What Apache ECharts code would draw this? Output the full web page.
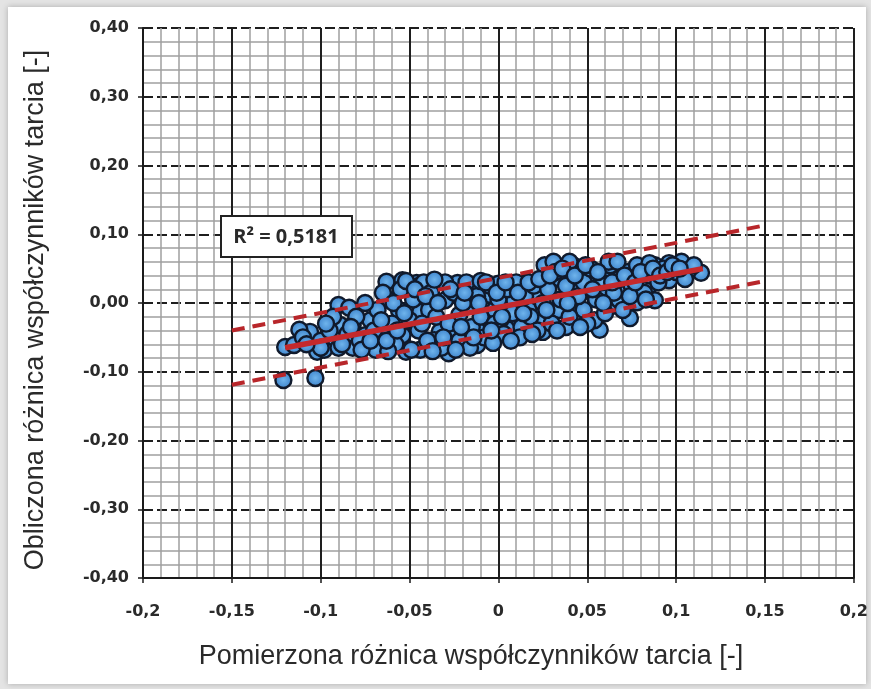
<!DOCTYPE html>
<html><head><meta charset="utf-8">
<script src="https://cdn.jsdelivr.net/npm/echarts@6/dist/echarts.min.js"></script>
<style>html,body{margin:0;padding:0;background:#fff}#c{width:871px;height:689px}</style>
</head><body><div id="c"></div>
<script>
// Tick labels
const xTickLabels = ['-0,2','-0,15','-0,1','-0,05','0','0,05','0,1','0,15','0,2'];
const yTickLabels = ['-0,40','-0,30','-0,20','-0,10','0,00','0,10','0,20','0,30','0,40'];

const pointsX = [
 -0.120,-0.121,-0.103,-0.106,-0.112,-0.102,-0.090,-0.084,-0.082,-0.082,
 -0.095,-0.089,-0.069,-0.065,-0.063,-0.054,-0.046,-0.056,-0.054,-0.052,
 -0.072,-0.061,-0.075,-0.098,-0.115,-0.044,-0.035,-0.023,-0.012,0.006,
 0.016,0.029,0.033,-0.044,-0.039,-0.033,-0.023,-0.012,-0.028,-0.012,
 0.006,0.025,-0.044,0.017,-0.030,-0.016,-0.002,-0.005,-0.022,0.009,
 0.023,0.001,0.012,-0.036,0.034,0.042,0.048,0.062,0.038,0.057,
 0.078,0.114,0.034,0.043,0.051,0.060,0.068,0.079,0.088,0.096,
 0.103,0.107,0.046,0.057,0.071,0.085,0.096,0.026,0.031,0.068,
 0.054,0.074,0.088,0.026,-0.110,-0.100,-0.095,-0.085,-0.080,-0.078,
 -0.070,-0.068,-0.065,-0.060,-0.058,-0.055,-0.050,-0.048,-0.045,-0.042,
 -0.040,-0.038,-0.035,-0.032,-0.030,-0.028,-0.025,-0.022,-0.020,-0.018,
 -0.015,-0.012,-0.010,-0.008,-0.005,-0.002,0.000,0.003,0.005,0.008,
 0.010,0.013,0.015,0.018,0.020,0.022,0.025,0.028,0.030,0.032,
 0.035,0.038,0.040,0.042,0.045,0.048,0.050,0.052,0.055,0.058,
 0.060,0.063,0.065,0.068,0.070,0.073,0.075,0.078,0.082,0.085,
 0.090,0.093,0.100,0.105,-0.090,-0.075,-0.062,-0.052,-0.036,-0.010,
 0.000,0.012,-0.016,-0.003,0.040,0.062,0.085,0.110,
 -0.100,-0.093,-0.088,-0.083,-0.077,-0.072,-0.066,-0.063,-0.059,-0.057,
 -0.053,-0.049,-0.047,-0.043,-0.041,-0.037,-0.034,-0.031,-0.027,-0.024,
 -0.021,-0.019,-0.014,-0.011,-0.007,-0.004,-0.001,0.002,0.004,0.007,
 0.011,0.014,0.017,0.019,0.023,0.027,0.029,0.033,0.036,0.039,
 0.043,0.046,0.049,0.053,0.056,0.059,0.064,0.067,0.071,0.074,
 0.077,0.080,0.083,0.087,0.091,0.095,0.098,0.102,-0.108,-0.097
];
const pointsY = [
 -0.064,-0.112,-0.109,-0.042,-0.039,-0.071,-0.003,-0.007,-0.032,-0.065,
 -0.054,-0.032,-0.068,-0.049,0.031,0.033,0.029,-0.010,-0.047,-0.071,
 -0.025,0.004,-0.047,-0.068,-0.061,0.026,0.029,0.029,0.026,0.029,
 0.031,0.031,-0.010,-0.013,-0.010,-0.042,-0.042,-0.039,-0.073,-0.061,
 -0.039,-0.042,-0.068,-0.010,0.004,-0.003,-0.010,0.012,-0.017,0.004,
 0.012,-0.025,-0.025,-0.054,-0.010,-0.010,-0.010,-0.007,-0.035,-0.039,
 0.001,0.044,0.036,0.045,0.041,0.045,0.048,0.051,0.055,0.058,
 0.060,0.048,0.019,0.019,0.019,0.026,0.033,0.055,0.060,0.004,
 -0.025,-0.022,0.004,-0.025,-0.050,-0.055,-0.040,-0.045,-0.020,-0.055,
 -0.040,-0.010,0.015,-0.030,-0.060,0.020,-0.025,0.005,-0.040,0.030,
 -0.055,0.015,-0.020,-0.065,0.030,-0.030,0.015,-0.055,0.000,0.030,
 -0.035,0.010,-0.020,-0.050,0.025,-0.030,0.005,-0.045,0.020,-0.015,
 0.030,-0.035,0.010,-0.020,0.025,-0.040,0.000,0.020,-0.030,0.045,
 0.005,0.025,-0.020,0.055,0.010,0.030,-0.030,0.050,0.005,0.030,
 -0.015,0.055,0.015,0.035,-0.010,0.045,0.025,0.055,0.015,0.040,
 0.030,0.050,0.045,0.035,-0.065,0.000,-0.070,0.032,0.034,0.032,
 0.028,-0.050,-0.065,-0.058,0.060,0.060,0.058,0.055,
 -0.065,-0.020,-0.060,-0.035,-0.068,-0.055,-0.025,-0.055,0.000,-0.040,
 -0.015,-0.068,0.020,-0.030,0.010,-0.070,0.000,-0.050,0.020,-0.068,
 -0.035,0.015,-0.050,0.000,0.030,-0.040,0.015,-0.020,0.030,-0.055,
 0.015,-0.015,0.030,-0.045,0.035,-0.010,0.040,-0.040,0.050,0.000,
 0.040,-0.035,0.055,0.020,0.045,0.000,0.030,0.060,0.040,0.010,
 0.030,0.045,0.005,0.050,0.040,0.045,0.055,0.050,-0.060,-0.030
];

// Trend line and prediction band endpoints
const trendX = [-0.120, 0.115];
const trendY = [-0.065, 0.050];
const upperX = [-0.150, 0.150];
const upperY = [-0.040, 0.113];
const lowerX = [-0.150, 0.150];
const lowerY = [-0.119, 0.032];
const rSquaredText = 'R\u00B2 = 0,5181';
const xTitle = 'Pomierzona różnica współczynników tarcia [-]';
const yTitle = 'Obliczona różnica współczynników tarcia [-]';

const zip = (a, b) => a.map((v, i) => [v, b[i]]);
const chart = echarts.init(document.getElementById('c'));

const xMin = -0.2, xInt = 0.05, yMin = -0.4, yInt = 0.1;
const labelFont = {fontFamily: 'DejaVu Sans', fontWeight: 'bold', fontSize: 16, color: '#2a2a2a'};

chart.setOption({
  backgroundColor: '#e4e4e4',
  animation: false,
  graphic: [
    {type: 'rect', z: -10, shape: {x: 8, y: 7, width: 858, height: 677},
     style: {fill: '#ffffff', shadowBlur: 6, shadowColor: 'rgba(0,0,0,0.25)'}},
    {type: 'text', x: 471, y: 657, z: 10,
     style: {text: xTitle, fontFamily: 'Liberation Sans', fontSize: 27, fill: '#2a2a2a', align: 'center', verticalAlign: 'middle'}},
    {type: 'text', x: 36, y: 310, rotation: Math.PI / 2, z: 10,
     style: {text: yTitle, fontFamily: 'Liberation Sans', fontSize: 27, fill: '#2a2a2a', align: 'center', verticalAlign: 'middle'}},
    {type: 'rect', z: 100, shape: {x: 221, y: 216, width: 131, height: 41},
     style: {fill: '#ffffff', stroke: '#222', lineWidth: 2}},
    {type: 'text', z: 101, x: 286, y: 237,
     style: {text: rSquaredText, fontFamily: 'Open Sans', fontWeight: 700, fontSize: 20, fill: '#2a2a2a', align: 'center', verticalAlign: 'middle'}}
  ],
  grid: {left: 143, right: 16, top: 28, bottom: 111, containLabel: false},
  xAxis: {
    type: 'value', min: xMin, max: 0.2, interval: xInt,
    axisLine: {show: true, onZero: false, lineStyle: {color: '#1a1a1a', width: 2}},
    axisTick: {show: true, length: 5, lineStyle: {color: '#1a1a1a', width: 1.5}},
    axisLabel: Object.assign({margin: 26,
      formatter: v => xTickLabels[Math.round((v - xMin) / xInt)]}, labelFont),
    splitLine: {show: true, lineStyle: {color: '#1e1e1e', width: 2}},
    minorTick: {show: false, splitNumber: 5},
    minorSplitLine: {show: true, lineStyle: {color: '#a0a0a0', width: 1.5}}
  },
  yAxis: {
    type: 'value', min: yMin, max: 0.4, interval: yInt,
    axisLine: {show: true, onZero: false, lineStyle: {color: '#1a1a1a', width: 2}},
    axisTick: {show: true, length: 5, lineStyle: {color: '#1a1a1a', width: 1.5}},
    axisLabel: Object.assign({margin: 14,
      formatter: v => yTickLabels[Math.round((v - yMin) / yInt)]}, labelFont),
    splitLine: {show: true, lineStyle: {color: '#1e1e1e', width: 2, type: [10, 4]}},
    minorTick: {show: false, splitNumber: 5},
    minorSplitLine: {show: true, lineStyle: {color: '#a0a0a0', width: 1.5}}
  },
  series: [
    {type: 'scatter', data: zip(pointsX, pointsY), symbolSize: 16, z: 3,
     itemStyle: {
       color: {type: 'radial', x: 0.5, y: 0.5, r: 0.5, colorStops: [
         {offset: 0, color: '#6fb4ec'}, {offset: 0.7, color: '#4a90d4'}, {offset: 1, color: '#3573b6'}]},
       borderColor: '#101a2c', borderWidth: 2.4, opacity: 1}},
    {type: 'line', data: zip(upperX, upperY), showSymbol: false, z: 5,
     lineStyle: {color: '#b8262a', width: 4, type: [13, 8]}},
    {type: 'line', data: zip(lowerX, lowerY), showSymbol: false, z: 5,
     lineStyle: {color: '#b8262a', width: 4, type: [13, 8]}},
    {type: 'line', data: zip(trendX, trendY), showSymbol: false, z: 6,
     lineStyle: {color: '#c4292c', width: 5.5}}
  ]
});
</script></body></html>
